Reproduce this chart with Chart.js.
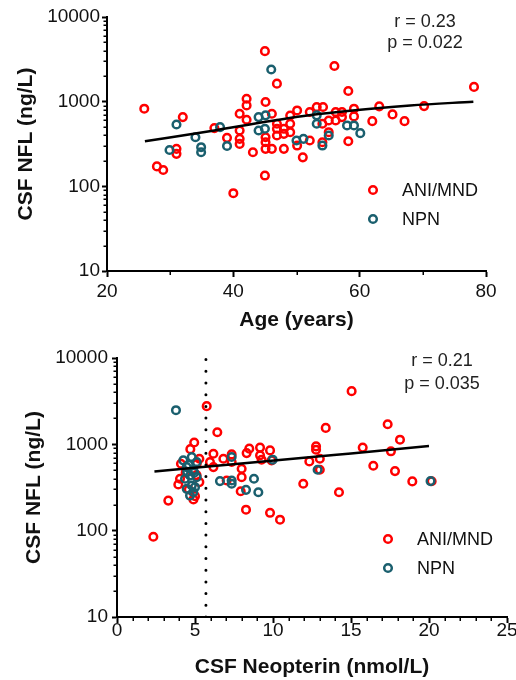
<!DOCTYPE html>
<html><head><meta charset="utf-8">
<script src="https://cdn.jsdelivr.net/npm/chart.js@4/dist/chart.umd.min.js"></script>
<style>
html,body{margin:0;padding:0;background:#fff;overflow:hidden;}
.wrap{position:absolute;left:0;width:516px;height:340px;}
</style></head><body>
<div class="wrap" style="top:0"><canvas id="c1" width="516" height="340"></canvas></div>
<div class="wrap" style="top:340px"><canvas id="c2" width="516" height="340"></canvas></div>
<script>
const FONT = "'Liberation Sans', Arial, sans-serif";
const RED = '#ff0000', TEAL = '#1a5f6e';
const seriesNames = ['ANI/MND', 'NPN'];
const yTickValues = [10, 100, 1000, 10000];

// ---- Top panel: Age vs CSF NFL ----
const ageRedX = [25.9,32.0,31.0,31.0,27.9,28.9,37.0,39.0,41.0,41.0,41.0,41.0,42.1,42.1,42.1,43.1,45.0,45.1,45.1,45.1,45.1,45.0,46.1,46.1,46.9,46.9,46.9,46.9,48.0,48.0,48.0,49.0,49.0,49.0,50.1,50.1,51.0,52.1,52.1,53.2,54.2,54.1,54.1,55.1,55.1,56.2,56.2,56.0,57.2,57.2,58.2,58.2,59.1,59.1,62.0,63.1,65.2,67.1,70.2,78.1,40.0];
const ageRedY = [826,657,277,242,172,156,487,374,720,457,364,317,1084,904,611,253,3950,991,380,332,277,134,720,277,1633,548,478,398,478,417,277,687,548,436,788,303,220,754,348,864,864,548,332,600,436,754,600,2640,754,657,1336,341,826,670,589,879,707,589,887,1494,83];
const ageTealX = [31.0,29.9,34.0,34.9,34.9,37.9,39.0,44.0,45.1,44.0,45.0,46.0,50.0,51.1,53.2,53.2,54.1,55.1,58.0,59.1,60.1];
const ageTealY = [538,269,380,290,253,500,300,657,689,457,479,2400,348,364,689,548,303,398,524,524,425];
const ageFitX = [26, 37, 52, 68, 78];
const ageFitY = [341, 457, 690, 900, 1000];
const ageStats = ['r = 0.23', 'p = 0.022'];
const ageTicks = [20, 40, 60, 80];
const ageMinor = [30, 50, 70];

// ---- Bottom panel: CSF Neopterin vs CSF NFL ----
const neoRedX = [5.75,6.43,4.95,4.7,5.28,5.28,5.96,6.18,6.18,6.82,7.35,7.99,7.99,7.93,8.31,8.48,9.17,9.81,9.27,4.04,3.93,3.29,5.0,7.35,9.17,9.91,7.03,5.11,12.76,12.76,13.0,12.33,13.0,11.94,14.23,15.75,17.56,16.43,17.82,18.93,20.17,15.04,13.38,17.35,18.14,2.33,8.27,9.81,10.45,4.1,4.4,5.1,4.6,4.9];
const neoRedY = [2767,1380,1050,880,681,365,622,778,545,681,765,522,417,286,792,891,916,851,663,399,343,223,251,624,745,652,381,596,948,867,681,634,508,349,279,916,830,565,490,372,374,4130,1550,1710,1132,85,175,161,134,596,470,440,300,230];
const neoTealX = [3.78,7.35,9.98,12.86,6.6,7.35,7.35,8.78,8.27,9.06,20.1,4.25,4.79,5.11,4.47,4.89,4.68,4.36,5.11,4.79,4.47,4.89,4.68,5.0,4.6,4.95,4.5];
const neoTealY = [2486,713,664,507,375,381,349,399,297,279,375,652,713,624,545,499,436,399,417,334,305,279,255,319,580,470,480];
const neoFitX = [2.4, 8.5, 15, 20];
const neoFitY = [485, 610, 785, 955];
const neoCutoff = 5.7;
const neoStats = ['r = 0.21', 'p = 0.035'];
const neoTicks = [0, 5, 10, 15, 20, 25];
const neoMinor = [1,2,3,4,6,7,8,9,11,12,13,14,16,17,18,19,21,22,23,24];

const pts = (xs, ys) => xs.map((x, i) => ({x, y: ys[i]}));

const decor = {
  id: 'decor',
  afterDraw(chart, args, o) {
    const {ctx, chartArea: a, scales: {x, y}} = chart;
    ctx.save();
    ctx.strokeStyle = '#000';
    ctx.lineWidth = 1.5;
    ctx.beginPath();
    for (let d = 10; d < 10000; d *= 10) {
      for (let m = 2; m <= 9; m++) {
        const py = Math.round(y.getPixelForValue(d * m)) + 0.25;
        ctx.moveTo(a.left - 3.5, py); ctx.lineTo(a.left, py);
      }
    }
    o.xMinor.forEach(v => {
      const px = Math.round(x.getPixelForValue(v)) + 0.25;
      ctx.moveTo(px, a.bottom); ctx.lineTo(px, a.bottom + 4);
    });
    ctx.stroke();
    ctx.fillStyle = '#222';
    ctx.font = '18px ' + FONT;
    ctx.textAlign = 'center';
    ctx.textBaseline = 'middle';
    o.stats.forEach((t, i) => ctx.fillText(t, o.statsX, o.statsY[i]));
    // legend
    ctx.textAlign = 'left';
    seriesNames.forEach((name, i) => {
      const cy = o.legY + i * 29;
      ctx.beginPath();
      ctx.strokeStyle = i === 0 ? RED : TEAL;
      ctx.lineWidth = 2.5;
      ctx.arc(o.legX, cy, 3.8, 0, Math.PI * 2);
      ctx.stroke();
      ctx.fillStyle = '#111';
      ctx.fillText(name, o.legX + 29, cy + 1);
    });
    ctx.restore();
  }
};

function makeChart(id, cfg) {
  const yAxis = {
    type: 'logarithmic', min: 10, max: 10000,
    afterBuildTicks: s => { s.ticks = yTickValues.map(v => ({value: v, major: true})); },
    afterFit: s => { s.width = cfg.yWidth; s.paddingTop = 0; s.paddingBottom = 0; },
    ticks: {color: '#111', font: {family: FONT, size: 19, lineHeight: 1}, padding: cfg.yPad, callback: v => String(v), autoSkip: false},
    grid: {display: true, drawOnChartArea: false, drawTicks: true, tickLength: 5, tickWidth: 2, tickColor: '#000'},
    border: {display: true, color: '#000', width: 2},
    title: {display: true, text: 'CSF NFL (ng/L)', color: '#111', font: {family: FONT, size: 21, weight: 'bold'}, padding: {top: cfg.yTitlePad, bottom: 0}}
  };
  const xAxis = {
    type: 'linear', min: cfg.xTicks[0], max: cfg.xTicks[cfg.xTicks.length - 1],
    afterBuildTicks: s => { s.ticks = cfg.xTicks.map(v => ({value: v})); },
    afterFit: s => { s.height = cfg.xHeight; s.paddingLeft = 0; s.paddingRight = 0; },
    ticks: {color: '#111', font: {family: FONT, size: 19, lineHeight: 1}, padding: cfg.xPad, maxRotation: 0, autoSkip: false},
    grid: {display: true, drawOnChartArea: false, drawTicks: true, tickLength: 6, tickWidth: 2, tickColor: '#000'},
    border: {display: true, color: '#000', width: 2},
    title: {display: true, text: cfg.xTitle, color: '#111', font: {family: FONT, size: 21, weight: 'bold'}, padding: {top: 0, bottom: cfg.xTitlePad}}
  };
  const datasets = [
    {label: seriesNames[0], data: cfg.red, order: 2, showLine: false, pointStyle: 'circle', pointRadius: 3.8, pointHoverRadius: 3.8, pointBorderWidth: 2.5, borderColor: RED, backgroundColor: 'rgba(0,0,0,0)'},
    {label: seriesNames[1], data: cfg.teal, order: 1, showLine: false, pointStyle: 'circle', pointRadius: 3.8, pointHoverRadius: 3.8, pointBorderWidth: 2.5, borderColor: TEAL, backgroundColor: 'rgba(0,0,0,0)'},
    {type: 'line', label: 'fit', data: cfg.fit, order: 0, borderColor: '#000', borderWidth: 2.5, pointRadius: 0, tension: 0.4, cubicInterpolationMode: 'monotone', fill: false}
  ];
  if (cfg.cutoff !== undefined) {
    datasets.push({type: 'line', label: 'cutoff', data: [{x: cfg.cutoff, y: 10}, {x: cfg.cutoff, y: 10000}], order: -1, borderColor: '#000', borderWidth: 3, borderDash: [0, 11.7], borderCapStyle: 'round', pointRadius: 0, fill: false});
  }
  return new Chart(document.getElementById(id), {
    type: 'scatter',
    data: {datasets},
    options: {
      responsive: false, maintainAspectRatio: false, animation: false,
      events: [],
      layout: {padding: cfg.padding},
      scales: {x: xAxis, y: yAxis},
      plugins: {legend: {display: false}, tooltip: {enabled: false}, decor: cfg.decor}
    },
    plugins: [decor]
  });
}

makeChart('c1', {
  red: pts(ageRedX, ageRedY), teal: pts(ageTealX, ageTealY), fit: pts(ageFitX, ageFitY),
  xTicks: ageTicks, xTitle: 'Age (years)',
  yWidth: 107, yPad: 2, yTitlePad: 14, xHeight: 69, xPad: 5, xTitlePad: 7,
  padding: {left: 0, right: 30, top: 17, bottom: 0},
  decor: {xMinor: ageMinor, stats: ageStats, statsX: 425, statsY: [22, 43], legX: 373, legY: 190}
});
makeChart('c2', {
  red: pts(neoRedX, neoRedY), teal: pts(neoTealX, neoTealY), fit: pts(neoFitX, neoFitY), cutoff: neoCutoff,
  xTicks: neoTicks, xTitle: 'CSF Neopterin (nmol/L)',
  yWidth: 117, yPad: 4, yTitlePad: 22, xHeight: 63, xPad: -2, xTitlePad: 0,
  padding: {left: 0, right: 9, top: 18, bottom: 0},
  decor: {xMinor: neoMinor, stats: neoStats, statsX: 442, statsY: [21, 44], legX: 388, legY: 199}
});
</script>
</body></html>
